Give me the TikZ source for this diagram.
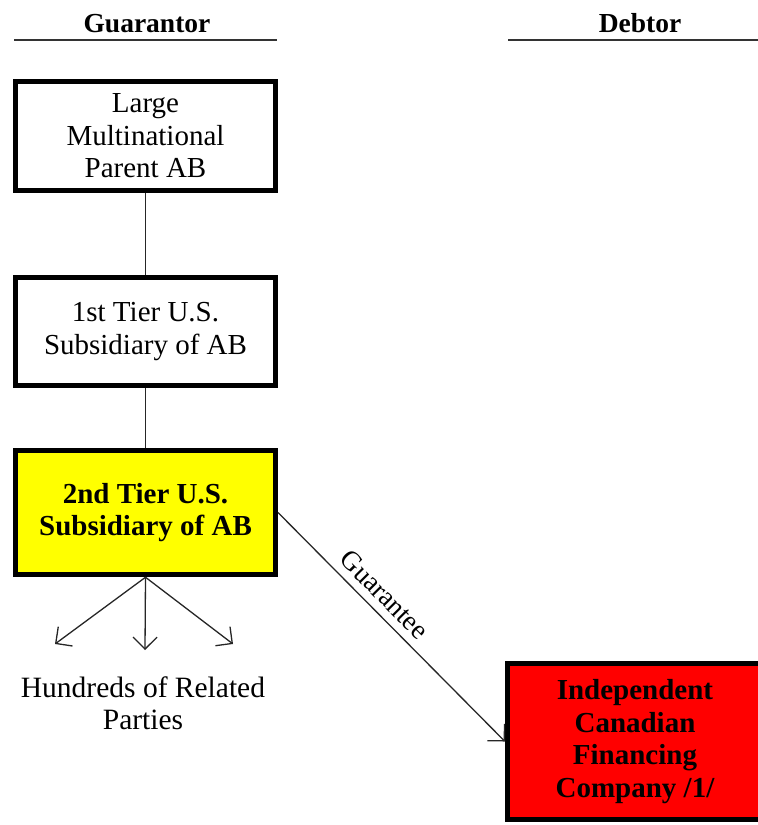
\documentclass[tikz,border=0pt]{standalone}
\usepackage{fontspec}
\setmainfont{Liberation Serif}
\usetikzlibrary{arrows.meta}
\definecolor{boxyellow}{RGB}{255,255,0}
\definecolor{boxred}{RGB}{255,0,0}
\begin{document}
\begin{tikzpicture}[x=1pt,y=-1pt,
  entity/.style={draw=black, line width=5pt, minimum width=260pt, align=center,
    inner sep=0pt, font=\fontsize{29}{32.5}\selectfont},
  heading/.style={anchor=base, inner sep=0pt, font=\fontsize{27.5}{32.5}\selectfont\bfseries},
  rule/.style={draw=black!80, line width=1.5pt},
  link/.style={draw=black!85, line width=1.3pt},
  tip/.style={link, -{Straight Barb[length=8pt,width=16pt,scale=1.5]}},
  plain/.style={align=center, inner sep=0pt, font=\fontsize{29.5}{32.5}\selectfont}
]
\useasboundingbox (0,0) rectangle (758,825);

% column headings
\node[heading] (hguar) at (147,32) {Guarantor};
\node[heading] (hdebt) at (640,32) {Debtor};
\draw[rule] (14,40) -- (277,40);
\draw[rule] (508,40) -- (760,40);

% ownership chain
\node[entity, minimum height=109pt] (parent) at (145.5,136) {Large\\Multinational\\Parent AB};
\node[entity, minimum height=108pt] (tier1) at (145.5,331.5) {1st Tier U.S.\\Subsidiary of AB};
\node[entity, minimum height=124.5pt, fill=boxyellow, font=\fontsize{29}{32.5}\selectfont\bfseries]
  (tier2) at (145.5,512.5) {2nd Tier U.S.\\Subsidiary of AB};

\draw[link] (parent) -- (tier1);
\draw[link] (tier1) -- (tier2);

% related parties
\coordinate (rpl) at (55,644);
\coordinate (rpm) at (145,650);
\coordinate (rpr) at (233,644);
\draw[tip] (tier2.south) -- (rpl);
\draw[tip] (tier2.south) -- (rpm);
\draw[tip] (tier2.south) -- (rpr);
\node[plain] (related) at (143,703) {Hundreds of Related\\Parties};

% debtor
\node[entity, minimum width=255pt, minimum height=156pt, fill=boxred,
  font=\fontsize{29}{32.5}\selectfont\bfseries]
  (debtor) at (635,741.5) {Independent\\Canadian\\Financing\\Company /1/};

\draw[tip] (tier2.east) -- node[sloped, pos=0.414, above=8pt, inner sep=0pt,
  font=\fontsize{27.5}{32.5}\selectfont] (glabel) {Guarantee} (debtor.west);
\end{tikzpicture}
\end{document}
